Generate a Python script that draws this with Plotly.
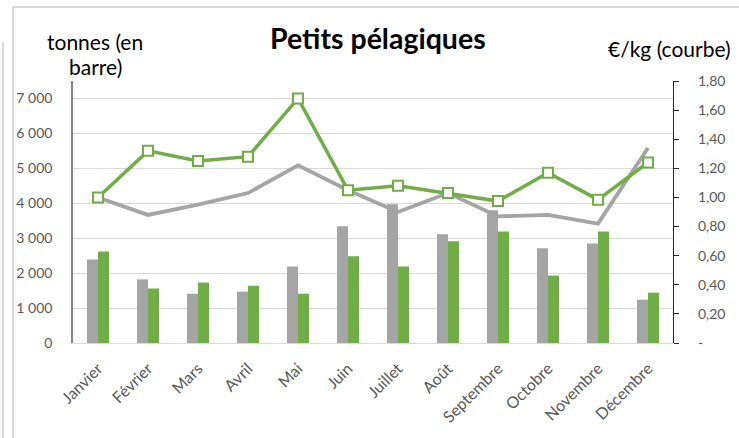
import plotly.graph_objects as go

months = ["Janvier", "Février", "Mars", "Avril", "Mai", "Juin", "Juillet",
          "Août", "Septembre", "Octobre", "Novembre", "Décembre"]
tonnes_gray = [2390, 1820, 1410, 1470, 2190, 3340, 3970, 3110, 3800, 2710, 2850, 1240]
tonnes_green = [2620, 1560, 1730, 1640, 1410, 2480, 2190, 2910, 3190, 1930, 3190, 1440]
prix_gray = [1.00, 0.88, 0.95, 1.03, 1.22, 1.05, 0.90, 1.03, 0.87, 0.88, 0.82, 1.34]
prix_green = [1.00, 1.32, 1.25, 1.28, 1.68, 1.05, 1.08, 1.03, 0.975, 1.17, 0.985, 1.24]

left_ticks = [0, 1000, 2000, 3000, 4000, 5000, 6000, 7000]
left_text = ["0", "1 000", "2 000", "3 000", "4 000", "5 000", "6 000", "7 000"]
right_ticks = [0, 0.2, 0.4, 0.6, 0.8, 1.0, 1.2, 1.4, 1.6, 1.8]
right_text = ["-", "0,20", "0,40", "0,60", "0,80", "1,00", "1,20", "1,40", "1,60", "1,80"]

GRAY = "#A5A5A5"
GREEN = "#70AD47"
TXT = "#595959"
FONT = "Lato"

fig = go.Figure()
fig.add_trace(go.Bar(x=months, y=tonnes_gray, marker_color=GRAY, marker_line_width=0, yaxis="y"))
fig.add_trace(go.Bar(x=months, y=tonnes_green, marker_color=GREEN, marker_line_width=0, yaxis="y"))
fig.add_trace(go.Scatter(x=months, y=prix_gray, mode="lines", line=dict(color=GRAY, width=3.8), yaxis="y2"))
fig.add_trace(go.Scatter(x=months, y=prix_green, mode="lines+markers",
                         line=dict(color=GREEN, width=3.5),
                         marker=dict(symbol="square", size=10, color="white",
                                     line=dict(color=GREEN, width=2)),
                         yaxis="y2"))

def px(x):
    return (x - 73) / 600.0

def py(y):
    return (343 - y) / 262.0

fig.update_layout(
    width=739, height=438,
    margin=dict(l=73, r=66, t=81, b=95),
    paper_bgcolor="white", plot_bgcolor="white",
    showlegend=False,
    barmode="group", bargap=0.56, bargroupgap=0,
    font=dict(family=FONT, color=TXT, size=14),
    xaxis=dict(range=[-0.5, 11.5], showgrid=False, showline=True, linecolor="#D9D9D9", linewidth=1,
               tickangle=-45, tickfont=dict(size=16, color=TXT, family=FONT),
               ticks="", ticklabelstandoff=9, fixedrange=True),
    yaxis=dict(range=[0, 7500], tickvals=left_ticks, ticktext=left_text,
               showgrid=True, gridcolor="#D9D9D9", gridwidth=1,
               showline=True, linecolor="#868686", linewidth=1.5,
               ticks="", ticklabelstandoff=16, zeroline=False,
               tickfont=dict(size=14, color=TXT, family=FONT)),
    yaxis2=dict(range=[0, 1.8], tickvals=right_ticks, ticktext=right_text,
                overlaying="y", side="right", showgrid=False,
                showline=True, linecolor="#262626", linewidth=1.2,
                ticks="outside", ticklen=5, tickcolor="#262626",
                ticklabelstandoff=16, zeroline=False,
                tickfont=dict(size=14, color=TXT, family=FONT)),
    annotations=[
        dict(text="<b>Petits pélagiques</b>", x=px(378), y=py(38), xref="paper", yref="paper",
             showarrow=False, font=dict(size=28.5, color="black", family=FONT),
             xanchor="center", yanchor="middle"),
        dict(text="tonnes (en", x=px(95), y=py(42), xref="paper", yref="paper",
             showarrow=False, font=dict(size=21, color="black", family=FONT),
             xanchor="center", yanchor="middle"),
        dict(text="barre)", x=px(95), y=py(66), xref="paper", yref="paper",
             showarrow=False, font=dict(size=21, color="black", family=FONT),
             xanchor="center", yanchor="middle"),
        dict(text="€/kg (courbe)", x=px(669), y=py(48), xref="paper", yref="paper",
             showarrow=False, font=dict(size=21, color="black", family=FONT),
             xanchor="center", yanchor="middle"),
    ],
    shapes=[
        dict(type="line", xref="paper", yref="paper", x0=px(13), x1=px(739), y0=py(7), y1=py(7),
             line=dict(color="#D9D9D9", width=2)),
        dict(type="line", xref="paper", yref="paper", x0=px(13), x1=px(13), y0=py(7), y1=py(438),
             line=dict(color="#D9D9D9", width=2)),
        dict(type="line", xref="paper", yref="paper", x0=px(3), x1=px(3), y0=py(42), y1=py(438),
             line=dict(color="#D9D9D9", width=2)),
    ],
)

fig.write_html("out.html", config={"displayModeBar": False},
               post_script="document.body.style.margin='0';document.body.style.overflow='hidden';")
